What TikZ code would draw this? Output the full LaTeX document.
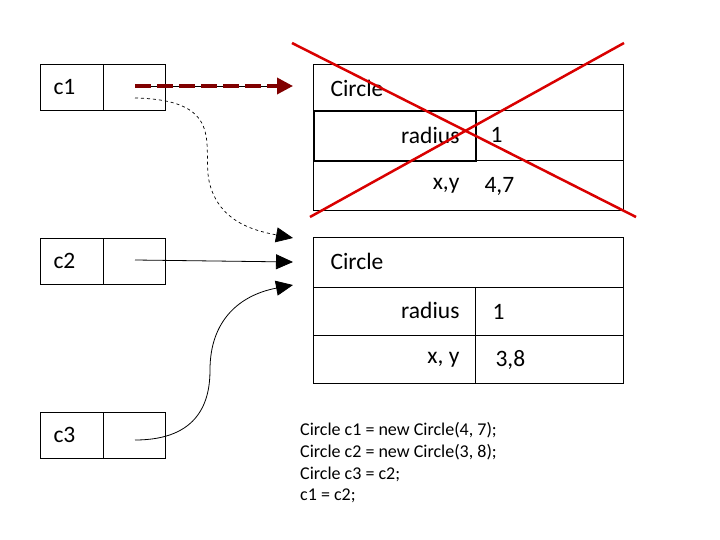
\documentclass[tikz,border=0pt]{standalone}
\usepackage{fontspec}
\setmainfont{Carlito}
\usetikzlibrary{arrows.meta}
\begin{document}
\begin{tikzpicture}[x=1pt,y=-1pt,
  cell/.style={draw,line width=0.8pt,inner sep=0,anchor=north west},
  big/.style={font=\fontsize{23.5}{26}\selectfont},
  code/.style={font=\fontsize{18}{22}\selectfont,anchor=west,inner sep=0},
  ptr/.style={-{Triangle[length=17pt,width=15pt]},line width=0.8pt}]
\useasboundingbox (0,0) rectangle (720,540);
% variable boxes
\foreach \n/\y in {c1/64,c2/238,c3/412}{
  \node[cell,minimum width=63,minimum height=46] (\n L) at (40,\y) {};
  \node[cell,minimum width=62,minimum height=46] (\n R) at (103,\y) {};
  \node[big,anchor=west] at ([xshift=10]\n L.west) {\n};
  \coordinate (\n p) at (135,\y+22);
}
% object 1
\node[cell,minimum width=310,minimum height=46] (o1a) at (313,64) {};
\node[cell,minimum width=162,minimum height=50,line width=1.6pt] (o1b) at (313,110) {};
\node[cell,minimum width=148,minimum height=50] (o1c) at (475,110) {};
\node[cell,minimum width=310,minimum height=50] (o1d) at (313,160) {};
\node[big,anchor=west] at (327,88) {Circle};
\node[big,anchor=east] at (463,135) {radius};
\node[big,anchor=west] at (487,135) {1};
\node[big,anchor=east] at (463,186) {x,y};
\node[big,anchor=west] at (481,186) {4,7};
% object 2
\node[cell,minimum width=310,minimum height=50] (o2a) at (313,237) {};
\node[cell,minimum width=162,minimum height=48] (o2b) at (313,287) {};
\node[cell,minimum width=148,minimum height=48] (o2c) at (475,287) {};
\node[cell,minimum width=162,minimum height=48] (o2d) at (313,335) {};
\node[cell,minimum width=148,minimum height=48] (o2e) at (475,335) {};
\node[big,anchor=west] at (327,261) {Circle};
\node[big,anchor=east] at (463,310) {radius};
\node[big,anchor=west] at (489,312) {1};
\node[big,anchor=east] at (463,360) {x, y};
\node[big,anchor=west] at (492,360) {3,8};
% target points
\coordinate (t1) at (293,86);
\coordinate (t1b) at (293,238);
\coordinate (t2) at (293,262);
\coordinate (t3) at (293,285);
% arrows
\draw[line width=0.6pt] (c1p) -- (280,86);
\draw[draw={rgb,255:red,128;green,0;blue,0},line width=3.5pt,dash pattern=on 16pt off 6pt,-{Triangle[length=16pt,width=16pt,fill={rgb,255:red,128;green,0;blue,0}]}] (c1p) -- (t1);
\draw[ptr,dashed,line width=0.7pt] (135,98) .. controls (230,100) and (200,150) .. (210,185) .. controls (220,220) and (250,230) .. (t1b);
\draw[ptr] (c2p) -- (t2);
\draw[ptr] (135,440) .. controls (200,440) and (210,400) .. (210,370) .. controls (210,320) and (240,295) .. (t3);
% red cross
\draw[red!85!black,line width=2.5pt] (292,43) -- (636,217);
\draw[red!85!black,line width=2.5pt] (310,217) -- (624,43);
% code
\node[code] (k1) at (300,430) {Circle c1 = new Circle(4, 7);};
\node[code] (k2) at (300,452) {Circle c2 = new Circle(3, 8);};
\node[code] (k3) at (300,474) {Circle c3 = c2;};
\node[code] (k4) at (300,496) {c1 = c2;};
\end{tikzpicture}
\end{document}
